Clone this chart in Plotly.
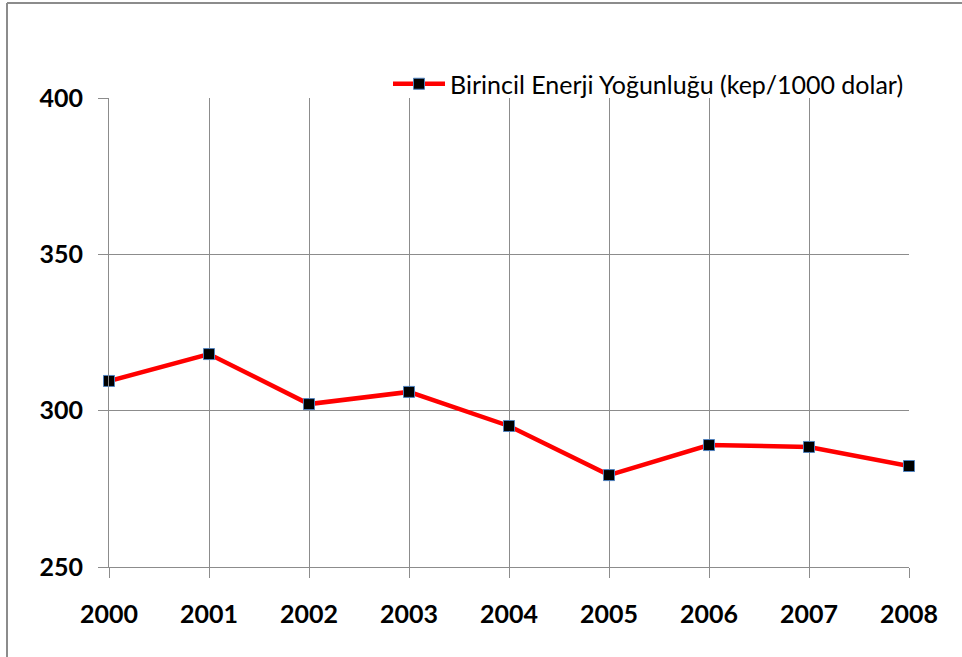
import plotly.graph_objects as go

years = ["2000", "2001", "2002", "2003", "2004", "2005", "2006", "2007", "2008"]
values = [309.5, 318.1, 302.1, 306.0, 295.1, 279.4, 289.0, 288.4, 282.3]
series_name = "Birincil Enerji Yoğunluğu (kep/1000 dolar)"
y_ticks = [250, 300, 350, 400]

fig = go.Figure()
fig.add_trace(go.Scatter(
    x=years, y=values, name=series_name, mode="lines+markers",
    line=dict(color="#ff0000", width=4.5),
    marker=dict(symbol="square", size=11, color="#000000",
                line=dict(color="#4f81bd", width=1)),
    cliponaxis=False,
))

W, H = 962, 657
L, R, T, B = 109, 53, 98, 90
pw, ph = W - L - R, H - T - B

def px(x):
    return (x - L) / pw

def py(y):
    return 1 - (y - T) / ph

fig.update_layout(
    width=W, height=H,
    margin=dict(l=L, r=R, t=T, b=B),
    paper_bgcolor="white", plot_bgcolor="white",
    font=dict(family="Lato", color="#000000"),
    showlegend=True,
    legend=dict(x=1, xanchor="right", y=py(84), yanchor="middle",
                font=dict(size=25, family="Lato"), bgcolor="rgba(0,0,0,0)",
                itemwidth=52),
    xaxis=dict(
        type="category", range=[0, 8], showgrid=True, gridcolor="#8c8c8c",
        gridwidth=1, showline=True, linecolor="#8c8c8c", ticks="outside",
        ticklen=10, tickcolor="#8c8c8c", tickfont=dict(size=25, family="Lato", weight="bold"),
        ticklabelstandoff=15, zeroline=False,
    ),
    yaxis=dict(
        range=[250, 400], tickvals=y_ticks, showgrid=True, gridcolor="#8c8c8c",
        gridwidth=1, showline=True, linecolor="#8c8c8c", ticks="outside",
        ticklen=10, tickcolor="#8c8c8c", tickfont=dict(size=25, family="Lato", weight="bold"),
        ticklabelstandoff=10, zeroline=False,
    ),
    shapes=[
        dict(type="line", xref="paper", yref="paper", x0=px(7), x1=px(7), y0=py(3), y1=py(700),
             line=dict(color="#8c8c8c", width=2)),
        dict(type="line", xref="paper", yref="paper", x0=px(7), x1=px(1000), y0=py(3), y1=py(3),
             line=dict(color="#8c8c8c", width=2)),
    ],
)

fig.write_html("out.html", config={"displayModeBar": False},
               post_script="document.body.style.margin='0';document.body.style.overflow='hidden';")
